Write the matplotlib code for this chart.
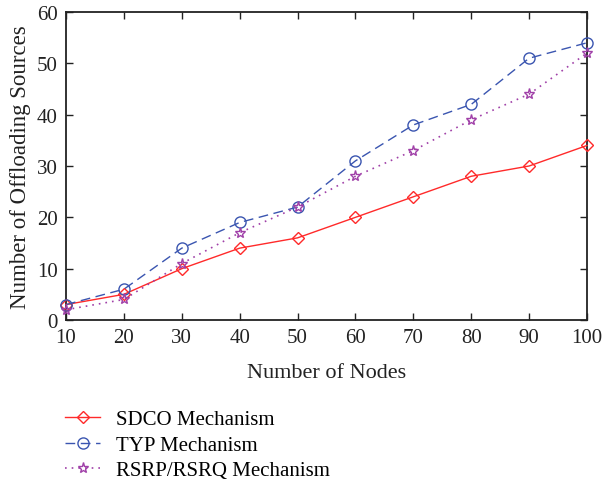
import matplotlib
matplotlib.use("Agg")
import matplotlib.pyplot as plt

nodes = [10, 20, 30, 40, 50, 60, 70, 80, 90, 100]
sdco = [3, 5, 10, 14, 16, 20, 24, 28, 30, 34]
typ = [3, 6, 14, 19, 22, 31, 38, 42, 51, 54]
rsrp = [2, 4, 11, 17, 22, 28, 33, 39, 44, 52]
labels = ["SDCO Mechanism", "TYP Mechanism", "RSRP/RSRQ Mechanism"]

plt.rcParams['font.family'] = ['Liberation Serif', 'DejaVu Serif']
plt.rcParams['font.size'] = 15

fig = plt.figure(figsize=(6.03, 4.85), dpi=100)
ax = fig.add_axes([66/603, 1-321/485, (587-66)/603, (321-13)/485])

l1, = ax.plot(nodes, sdco, color='#ff2a2a', lw=1.0, ls='-', marker='D', ms=6.5,
              mfc='none', mec='#ff2a2a', mew=1.0, clip_on=False, zorder=3)
l2, = ax.plot(nodes, typ, color='#3a55b0', lw=1.0, ls=(0, (7, 4)), marker='o', ms=8,
              mfc='none', mec='#3a55b0', mew=1.0, clip_on=False, zorder=3)
l3, = ax.plot(nodes, rsrp, color='#a040a8', lw=1.2, ls=(0, (1, 3)), marker='*', ms=8,
              mfc='none', mec='#a040a8', mew=1.0, clip_on=False, zorder=3)

ax.set_xlim(10, 100)
ax.set_ylim(0, 60)
ax.set_xticks(nodes)
ax.set_yticks([0, 10, 20, 30, 40, 50, 60])
ax.tick_params(direction='in', top=True, right=True, length=5, width=1, labelsize=15,
               colors='#222222', pad=6)
for s in ax.spines.values():
    s.set_linewidth(1.3)
    s.set_color('#222222')
ax.set_xlabel("Number of Nodes", fontsize=16, color='#222222', labelpad=11)
ax.set_ylabel("Number of Offloading Sources", fontsize=16.5, color='#222222', labelpad=4)

fig.legend([l1, l2, l3], labels, loc='upper left', bbox_to_anchor=(0.094, 0.170),
           frameon=False, fontsize=15, handlelength=1.7, labelspacing=0.28,
           handletextpad=0.75, borderaxespad=0)

fig.savefig("out.png", dpi=100)
